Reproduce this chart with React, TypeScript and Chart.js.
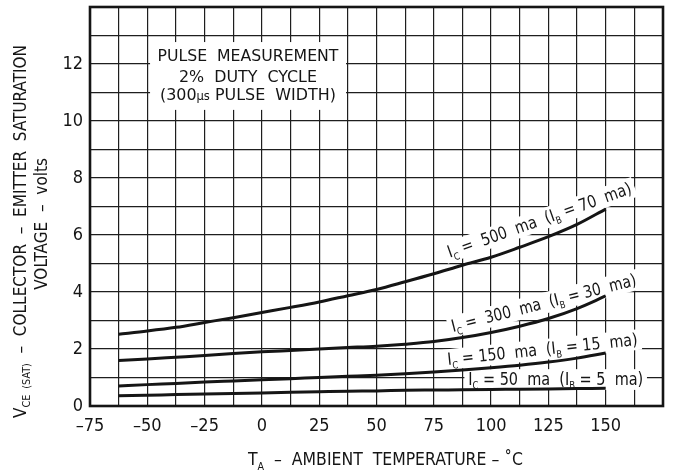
import { useEffect, useRef } from "react";
import { Chart, registerables } from "chart.js";

Chart.register(...registerables);

const FONT = "'Liberation Sans Narrow', 'DejaVu Sans Condensed', sans-serif";
const INK = "#151515";

// ---- data ----
const temperatures = [-62.5, -50, -37.5, -25, -12.5, 0, 12.5, 25, 37.5, 50, 62.5, 75, 87.5, 100, 112.5, 125, 137.5, 150];
const vce500 = [2.52, 2.63, 2.76, 2.93, 3.1, 3.28, 3.46, 3.65, 3.87, 4.09, 4.36, 4.64, 4.94, 5.22, 5.57, 5.94, 6.37, 6.91];
const vce300 = [1.6, 1.65, 1.71, 1.77, 1.84, 1.9, 1.95, 2.0, 2.05, 2.1, 2.17, 2.26, 2.4, 2.58, 2.8, 3.07, 3.42, 3.86];
const vce150 = [0.7, 0.75, 0.79, 0.84, 0.88, 0.92, 0.96, 1.0, 1.04, 1.08, 1.13, 1.19, 1.26, 1.34, 1.43, 1.54, 1.68, 1.86];
const vce50 = [0.36, 0.38, 0.4, 0.42, 0.44, 0.46, 0.48, 0.5, 0.52, 0.53, 0.55, 0.56, 0.57, 0.58, 0.59, 0.6, 0.61, 0.62];

const xTickValues = [-75, -50, -25, 0, 25, 50, 75, 100, 125, 150];
const xTickLabels = ["–75", "–50", "–25", "0", "25", "50", "75", "100", "125", "150"];
const yTickValues = [0, 2, 4, 6, 8, 10, 12];
const yTickLabels = ["0", "2", "4", "6", "8", "10", "12"];

type Seg = [string, number]; // 0 normal, 1 subscript, 2 small

const curveLabels: { segs: Seg[]; x: number; y: number; angle: number; width: number }[] = [
  { segs: [["I", 0], ["C", 1], [" =  500  ma  (I", 0], ["B", 1], [" = 70  ma)", 0]], x: 82, y: 5.2, angle: -19.5, width: 194 },
  { segs: [["I", 0], ["C", 1], [" =  300  ma  (I", 0], ["B", 1], [" = 30  ma)", 0]], x: 83.4, y: 2.6, angle: -14.3, width: 190 },
  { segs: [["I", 0], ["C", 1], [" = 150  ma  (I", 0], ["B", 1], [" = 15  ma)", 0]], x: 81.2, y: 1.44, angle: -6, width: 191 },
  { segs: [["I", 0], ["C", 1], [" = 50  ma  (I", 0], ["B", 1], [" = 5  ma)", 0]], x: 90, y: 0.74, angle: 0, width: 175 },
];

const noteLines: { segs: Seg[]; y: number; width: number }[] = [
  { segs: [["PULSE  MEASUREMENT", 0]], y: 12.1, width: 181 },
  { segs: [["2%  DUTY  CYCLE", 0]], y: 11.37, width: 138 },
  { segs: [["(300", 0], ["µs", 2], [" PULSE  WIDTH)", 0]], y: 10.72, width: 176 },
];

function drawSegs(
  ctx: CanvasRenderingContext2D,
  segs: Seg[],
  size: number,
  x: number,
  y: number,
  angle: number,
  align: "left" | "center" | "right",
  targetWidth: number,
  bg?: [number, number, number],
  fixedScale?: number
): number {
  ctx.save();
  ctx.translate(x, y);
  ctx.rotate((angle * Math.PI) / 180);
  const fonts = segs.map(([, k]) =>
    k === 0 ? `${size}px ${FONT}` : `${Math.round(size * (k === 1 ? 0.6 : 0.72))}px ${FONT}`
  );
  let w = 0;
  const widths = segs.map((s, i) => {
    ctx.font = fonts[i];
    const m = ctx.measureText(s[0]).width;
    w += m;
    return m;
  });
  const sx = fixedScale ? fixedScale : targetWidth ? targetWidth / w : 1;
  ctx.scale(sx, 1);
  const start = align === "center" ? -w / 2 : align === "right" ? -w : 0;
  if (bg) {
    ctx.fillStyle = "#fff";
    ctx.fillRect(start - bg[0], -size * 0.75 - bg[1], w + 2 * bg[0], size * 0.75 + bg[1] + bg[2]);
  }
  ctx.fillStyle = INK;
  ctx.textBaseline = "alphabetic";
  ctx.textAlign = "left";
  let cx = start;
  segs.forEach((s, i) => {
    ctx.font = fonts[i];
    const dy = s[1] === 1 ? size * 0.25 : 0;
    ctx.fillText(s[0], cx, dy);
    cx += widths[i];
  });
  ctx.restore();
  return sx;
}

const annotationPlugin = {
  id: "annotations",
  beforeDatasetsDraw(chart: any) {
    const { ctx, scales } = chart;
    const xs = scales.x;
    const ys = scales.y;
    // note box
    const bx1 = xs.getPixelForValue(-48.8);
    const bx2 = xs.getPixelForValue(36.7);
    const by1 = ys.getPixelForValue(12.77);
    const by2 = ys.getPixelForValue(10.39);
    ctx.save();
    ctx.fillStyle = "#fff";
    ctx.fillRect(bx1, by1, bx2 - bx1, by2 - by1);
    ctx.restore();
    const cxNote = xs.getPixelForValue(-6.1);
    noteLines.forEach((l) => {
      drawSegs(ctx, l.segs, 16.5, cxNote, ys.getPixelForValue(l.y), 0, "center", l.width);
    });
    curveLabels.forEach((l) => {
      drawSegs(ctx, l.segs, 17, xs.getPixelForValue(l.x), ys.getPixelForValue(l.y), l.angle, "left", l.width, [4, 3, 5]);
    });
  },
  afterDatasetsDraw(chart: any) {
    const { ctx, chartArea } = chart;
    ctx.save();
    ctx.strokeStyle = INK;
    ctx.lineWidth = 2.6;
    ctx.strokeRect(chartArea.left, chartArea.top, chartArea.right - chartArea.left, chartArea.bottom - chartArea.top);
    ctx.restore();
    // axis titles
    drawSegs(ctx, [["T", 0], ["A", 1], ["  –  AMBIENT  TEMPERATURE – ˚C", 0]], 18, 385.5, 465, 0, "center", 275);
    const sy = drawSegs(
      ctx,
      [["V", 0], ["CE  (SAT)", 1], ["  –  COLLECTOR  –  EMITTER  SATURATION", 0]],
      17.5,
      26,
      231.5,
      -90,
      "center",
      373
    );
    drawSegs(ctx, [["VOLTAGE  –  volts", 0]], 17.5, 47, 158, -90, "right", 0, undefined, sy);
  },
};

export default function App() {
  const ref = useRef<HTMLCanvasElement>(null);
  useEffect(() => {
    if (!ref.current) return;
    const mk = (data: number[]) => ({
      data: temperatures.map((t, i) => ({ x: t, y: data[i] })),
      borderColor: INK,
      borderWidth: 3,
      pointRadius: 0,
      cubicInterpolationMode: "monotone" as const,
      fill: false,
    });
    const chart = new Chart(ref.current, {
      type: "line",
      data: {
        datasets: [
          { label: "IC = 500 ma", ...mk(vce500) },
          { label: "IC = 300 ma", ...mk(vce300) },
          { label: "IC = 150 ma", ...mk(vce150) },
          { label: "IC = 50 ma", ...mk(vce50) },
        ],
      },
      options: {
        animation: false,
        responsive: true,
        maintainAspectRatio: false,
        layout: { padding: { top: 7, right: 24, left: 0, bottom: 0 } },
        plugins: { legend: { display: false }, tooltip: { enabled: false }, title: { display: false } },
        scales: {
          x: {
            type: "linear",
            min: -75,
            max: 175,
            afterFit: (s: any) => {
              s.height = 70;
              s.paddingLeft = 0;
              s.paddingRight = 0;
            },
            ticks: {
              stepSize: 12.5,
              autoSkip: false,
              maxRotation: 0,
              padding: 10,
              color: INK,
              font: { family: FONT, size: 18 },
              callback: (v: any) => {
                const i = xTickValues.indexOf(Number(v));
                return i >= 0 ? xTickLabels[i] : "";
              },
            },
            grid: { color: "#1e1e1e", lineWidth: 1.2, drawTicks: false },
            border: { display: false },
          },
          y: {
            type: "linear",
            min: 0,
            max: 14,
            afterFit: (s: any) => {
              s.width = 90;
              s.paddingTop = 0;
              s.paddingBottom = 0;
            },
            ticks: {
              stepSize: 1,
              autoSkip: false,
              padding: 7,
              color: INK,
              font: { family: FONT, size: 18 },
              callback: (v: any) => {
                const i = yTickValues.indexOf(Number(v));
                return i >= 0 ? yTickLabels[i] : "";
              },
            },
            grid: { color: "#1e1e1e", lineWidth: 1.2, drawTicks: false },
            border: { display: false },
          },
        },
      },
      plugins: [annotationPlugin],
    });
    return () => chart.destroy();
  }, []);
  return (
    <div style={{ position: "fixed", left: 0, top: 0, width: 687, height: 476, background: "#fff" }}>
      <canvas ref={ref} />
    </div>
  );
}
